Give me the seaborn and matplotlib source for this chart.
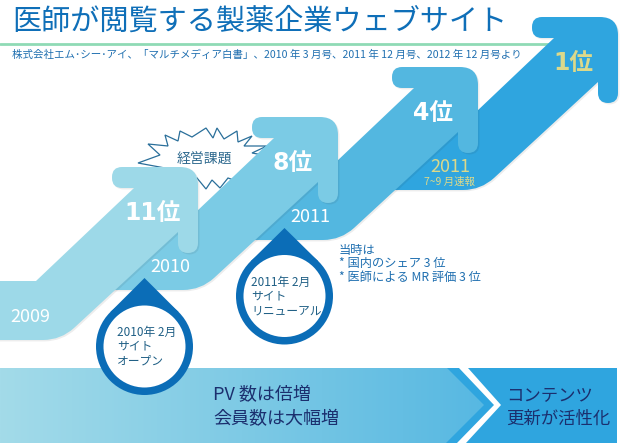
import numpy as np
import seaborn as sns
import matplotlib.pyplot as plt
from matplotlib.colors import ListedColormap
from matplotlib.patches import PathPatch, Circle, Polygon
from matplotlib.path import Path
import matplotlib.patheffects as pe

# data
titulo = "医師が閲覧する製薬企業ウェブサイト"
fuente = "株式会社エム･シー･アイ、「マルチメディア白書」、2010 年 3 月号、2011 年 12 月号、2012 年 12 月号より"
ranks = [11, 8, 4, 1]
years = ["2009", "2010", "2011", "2011"]
year_note = "7~9 月速報"
burst_label = "経営課題"
drop_labels = ["2010年 2月\nサイト\nオープン", "2011年 2月\nサイト\nリニューアル"]
note_lines = ["当時は", "* 国内のシェア 3 位", "* 医師による MR 評価 3 位"]
band_left = ["PV 数は倍増", "会員数は大幅増"]
band_right = ["コンテンツ", "更新が活性化"]

sns.set_theme(style="white")
plt.rcParams['font.family'] = ['Noto Sans CJK JP', 'DejaVu Sans']

step_colors = sns.color_palette(["#9dd9e8", "#7bcbe5", "#53b7e0", "#2fa5df"])
azul = "#0b6db7"
texto = "#1f6fb0"
oscuro = "#1b2f6e"
crema = "#dcd98a"
DX, DY = 140, -50


def rounded(points, radii):
    # polygon with rounded corners, radius per vertex
    pts = [np.array(p, float) for p in points]
    n = len(pts)
    verts, codes = [], []
    for i in range(n):
        p, prev, nxt = pts[i], pts[i - 1], pts[(i + 1) % n]
        r = radii[i]
        if r == 0:
            verts.append(p)
            codes.append(Path.LINETO if verts[:-1] else Path.MOVETO)
            continue
        a = p + (prev - p) / np.linalg.norm(prev - p) * r
        b = p + (nxt - p) / np.linalg.norm(nxt - p) * r
        verts.append(a)
        codes.append(Path.LINETO if verts[:-1] else Path.MOVETO)
        verts += [p, b]
        codes += [Path.CURVE3, Path.CURVE3]
    verts.append(verts[0])
    codes.append(Path.CLOSEPOLY)
    return Path(verts, codes)


def step_arrow(ax, i):
    # all four arrows share the one outline, moved along the staircase
    base = [(-40, 281), (36, 281), (134, 188), (112, 188), (112, 167), (198, 167),
            (198, 253), (178, 253), (178, 232), (61, 340), (-40, 340)]
    rad = [0, 0, 0, 10, 10, 18, 10, 10, 0, 18, 0]
    pts = [(x + DX * i, y + DY * i) for x, y in base]
    patch = PathPatch(rounded(pts, rad), fc=step_colors[i], ec="none", zorder=3 + (3 - i) * 0.1,
                      path_effects=[pe.SimplePatchShadow(offset=(1, -1), shadow_rgbFace="k", alpha=0.08),
                                    pe.Normal()])
    ax.add_patch(patch)


def drop(ax, cx, cy, peak):
    # teardrop: circle plus tangents running up to the peak
    R = 48.5
    d = cy - peak
    ang = np.arccos(R / d)
    t1 = (cx - R * np.sin(ang), cy - R * np.cos(ang))
    t2 = (cx + R * np.sin(ang), cy - R * np.cos(ang))
    ax.add_patch(Polygon([(cx, peak), t1, t2], fc=azul, ec="none", zorder=5))
    ax.add_patch(Circle((cx, cy), R, fc=azul, ec="none", zorder=5))
    ax.add_patch(Circle((cx, cy), 41, fc="white", ec="none", zorder=5.1))


fig = plt.figure(figsize=(6.2, 4.43), dpi=100)
ax = fig.add_axes([0, 0, 1, 1])

# bottom band with chevron
cmap = ListedColormap(sns.blend_palette(["#a3dbe9", "#7ecae5", "#57b8e2"], 256))
ax.add_patch(Polygon([(440, 368), (617, 368), (617, 443), (440, 443)], fc="#2fa5df", ec="none", zorder=1))
grad = ax.imshow(np.linspace(0, 1, 256)[None, :], cmap=cmap, extent=(0, 484, 443, 368), aspect="auto", zorder=1.1)
left_band = Polygon([(0, 368), (447, 368), (484, 405), (446, 443), (0, 443)], transform=ax.transData, fc="none", ec="none")
ax.add_patch(left_band)
grad.set_clip_path(left_band)
ax.add_patch(Polygon([(459, 368), (468, 368), (501, 405), (466, 443), (457, 443), (494, 405)],
                     fc="white", ec="none", zorder=1.2))

# green rule
sns.lineplot(x=[0, 570], y=[44, 44], color="#8fdab5", linewidth=2, ax=ax, zorder=2)

# burst behind the arrows
burst = [(138, 163), (160, 155), (148, 144), (168, 146), (165, 135), (178, 141), (180, 131), (192, 137),
         (206, 128), (213, 138), (217, 128), (224, 139), (237, 131), (238, 142), (252, 136), (244, 146),
         (267, 146), (252, 153), (263, 155), (262, 190), (228, 178), (220, 188), (212, 180), (206, 189),
         (197, 178), (175, 185), (165, 168)]
ax.add_patch(Polygon(burst, fc="white", ec="#2a6f9a", lw=0.9, zorder=2.5))
ax.text(204, 159, burst_label, fontsize=10, color="#2f6a8f", ha="center", va="center", zorder=2.6)

for i in range(3, -1, -1):
    step_arrow(ax, i)

drop(ax, 144.5, 346.5, 278)
drop(ax, 284.5, 296, 228)

# title and source
ax.text(12, 22, titulo, fontsize=21, color="#0f6fb8", ha="left", va="center", zorder=6)
ax.text(12, 55, fuente, fontsize=7.55, color=texto, ha="left", va="center", zorder=2)

# staircase labels
for i, (r, y) in enumerate(zip(ranks, years)):
    col = crema if i == 3 else "white"
    ax.text(153 + DX * i, 213 + DY * i, f"{r}位", fontsize=17, fontweight="bold", color=col,
            family=['DejaVu Sans', 'Noto Sans CJK JP'], ha="center", va="center", zorder=6)
    ax.text(30 + DX * i, 317 + DY * i, y, fontsize=13, color=col, ha="center", va="center", zorder=6)
ax.text(449, 182, year_note, fontsize=7.5, color=crema, ha="center", va="center", zorder=6)

# drop labels
for i, lab in enumerate(drop_labels):
    for j, line in enumerate(lab.split("\n")):
        ax.text(117 + DX * i * 0.96, 332 + DY * i + j * 14.5, line, fontsize=8.5, color="#1f5f85",
                ha="left", va="center", zorder=6)

for j, line in enumerate(note_lines):
    ax.text(339, 250 + j * 14, line, fontsize=8.8, color=texto, ha="left", va="center", zorder=6)

for j, line in enumerate(band_left):
    ax.text(213, 395 + j * 24, line, fontsize=13, color=oscuro, ha="left", va="center", zorder=6)
for j, line in enumerate(band_right):
    ax.text(506, 395 + j * 24, line, fontsize=12.5, color=oscuro, ha="left", va="center", zorder=6)

ax.set_xlim(0, 620)
ax.set_ylim(443, 0)
ax.axis("off")
fig.savefig("out.png", dpi=100)
